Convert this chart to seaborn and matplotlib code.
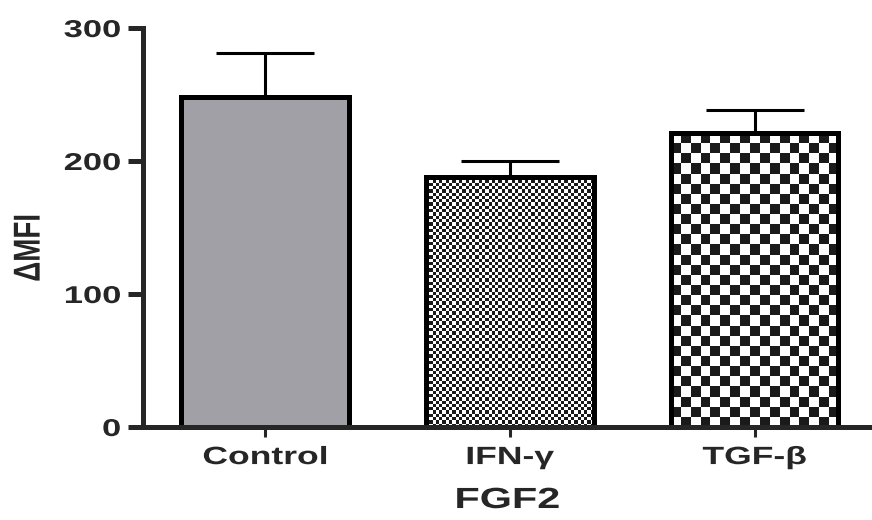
import numpy as np
import pandas as pd
import matplotlib
matplotlib.use("Agg")
import matplotlib.pyplot as plt
import seaborn as sns
from matplotlib.colors import ListedColormap
from matplotlib.patheffects import AbstractPathEffect
from matplotlib.transforms import Affine2D

# ---- data ----
groups = ["Control", "IFN-γ", "TGF-β"]
mfi = [248, 188, 221]
sem = [33, 12, 17]
y_ticks = [0, 100, 200, 300]
x_label = "FGF2"
y_label = "ΔMFI"

sns.set_style("ticks")
plt.rcParams["font.family"] = ["Liberation Sans", "DejaVu Sans"]
plt.rcParams["font.weight"] = "bold"


class HStretch(AbstractPathEffect):
    """Stretch text horizontally around an anchor (fraction of its width)."""
    def __init__(self, sx=1.4, anchor=0.5):
        super().__init__()
        self.sx = sx
        self.anchor = anchor

    def draw_path(self, renderer, gc, tpath, affine, rgbFace=None):
        ext = tpath.get_extents(affine)
        a = ext.x0 + self.anchor * ext.width
        t = affine + Affine2D().translate(-a, 0).scale(self.sx, 1).translate(a, 0)
        renderer.draw_path(gc, tpath, t, rgbFace)


fig = plt.figure(figsize=(8.72, 5.2), dpi=100)
ax = fig.add_axes([143 / 872, 93 / 520, (872 - 143) / 872, 399 / 520])

df = pd.DataFrame({"group": groups, "mfi": mfi})
sns.barplot(data=df, x="group", y="mfi", hue="group",
            palette=["#a09fa7", "white", "white"], width=0.686,
            edgecolor="black", linewidth=3.6, errorbar=None,
            legend=False, ax=ax, zorder=3)

ax.set_xlim(-0.5, 2.48)
ax.set_ylim(0, 300)

ax.errorbar(np.arange(len(groups)), mfi, yerr=[np.zeros(len(sem)), sem],
            fmt="none", ecolor="black", elinewidth=2.2, capsize=35,
            capthick=2.2, zorder=2)

# checkerboard fills
bars = [p for p in ax.patches]
cells = {1: 3.3, 2: 10.0}
for i, cell in cells.items():
    bar = bars[i]
    x0, w, h = bar.get_x(), bar.get_width(), bar.get_height()
    p0 = ax.transData.transform((x0, 0))
    p1 = ax.transData.transform((x0 + w, h))
    nx = max(1, int(round(abs(p1[0] - p0[0]) / cell)))
    ny = max(1, int(round(abs(p1[1] - p0[1]) / cell)))
    arr = np.add.outer(np.arange(ny), np.arange(nx)) % 2
    im = ax.imshow(arr, cmap=ListedColormap(["white", "#1a1a1a"]),
                   extent=(x0, x0 + w, 0, h), origin="upper",
                   interpolation="nearest", aspect="auto", zorder=2.5)
    im.set_clip_path(bar)
    bar.set_facecolor("none")

ax.set_xlim(-0.5, 2.48)
ax.set_ylim(0, 300)
ax.set_yticks(y_ticks)
ax.set_yticklabels([str(v) for v in y_ticks])

sns.despine(ax=ax)
ax.spines["left"].set_linewidth(3.6)
ax.spines["bottom"].set_linewidth(3.6)
ax.spines["left"].set_zorder(4)
ax.spines["bottom"].set_zorder(4)

ax.tick_params(axis="y", length=11, width=3.6, pad=5, labelsize=17.5)
ax.tick_params(axis="x", length=7, width=2.2, pad=6, labelsize=18)

for lab in ax.get_yticklabels():
    lab.set_fontweight("bold")
    lab.set_path_effects([HStretch(1.42, 1.0)])
for lab in ax.get_xticklabels():
    lab.set_fontweight("bold")
    lab.set_path_effects([HStretch(1.42, 0.5)])

ax.set_xlabel(x_label, fontsize=21, fontweight="bold", va="center")
ax.xaxis.set_label_coords(0.5, -0.183)
ax.xaxis.label.set_path_effects([HStretch(1.42, 0.5)])

ax.set_ylabel(y_label, fontsize=20, fontweight="bold", va="center")
ax.yaxis.set_label_coords(-0.156, 0.449)
ax.yaxis.label.set_path_effects([HStretch(1.35, 0.5)])

fig.savefig("out.png", dpi=100)
